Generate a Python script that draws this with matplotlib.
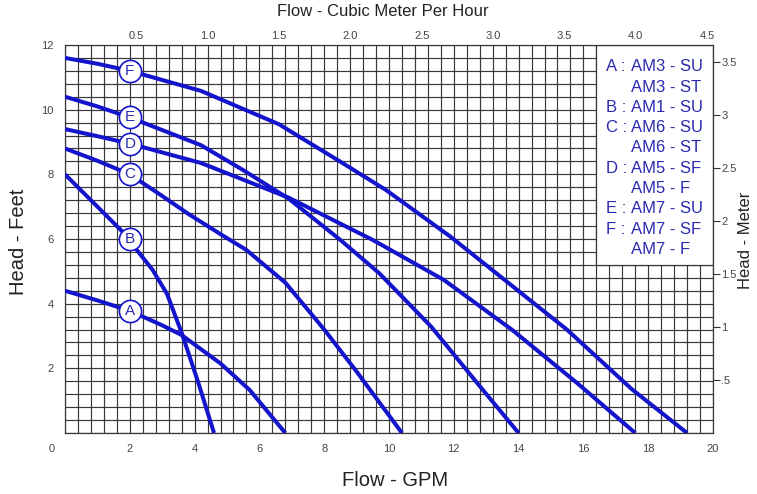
import numpy as np
import matplotlib
matplotlib.use("Agg")
import matplotlib.pyplot as plt
from matplotlib.patches import Rectangle

plt.rcParams['font.family'] = ['Liberation Sans', 'DejaVu Sans']

W, H = 757, 494

# pump curves: flow in GPM, head in feet
A_gpm = [0, 1, 2, 3, 3.6, 4.8, 5.7, 6.8]
A_ft = [4.4, 4.1, 3.78, 3.33, 3.03, 2.15, 1.33, 0]
B_gpm = [0, 1, 2, 2.2, 2.7, 3.15, 3.6, 4.1, 4.6]
B_ft = [8.0, 7.0, 6.0, 5.68, 5.05, 4.3, 3.1, 1.6, 0]
C_gpm = [0, 1, 2, 3, 3.8, 4.8, 5.6, 6.8, 8.0, 9.0, 9.7, 10.4]
C_ft = [8.8, 8.42, 8.0, 7.33, 6.78, 6.15, 5.66, 4.65, 3.2, 1.9, 0.95, 0]
D_gpm = [0, 1, 2, 4.2, 6.9, 9.5, 10.3, 11.7, 13.8, 15.8, 17.6]
D_ft = [9.4, 9.18, 8.95, 8.35, 7.28, 5.97, 5.52, 4.73, 3.19, 1.55, 0]
E_gpm = [0, 1, 2, 4.2, 5.5, 6.9, 8.5, 9.7, 11.3, 12.8, 14.0]
E_ft = [10.4, 10.1, 9.76, 8.9, 8.13, 7.25, 5.97, 4.94, 3.29, 1.45, 0]
F_gpm = [0, 1, 2, 4.2, 6.6, 8.5, 9.9, 11.9, 12.8, 15.5, 17.5, 19.2]
F_ft = [11.6, 11.42, 11.2, 10.58, 9.55, 8.39, 7.52, 6.07, 5.35, 3.19, 1.35, 0]

curves = {'A': (A_gpm, A_ft), 'B': (B_gpm, B_ft), 'C': (C_gpm, C_ft),
          'D': (D_gpm, D_ft), 'E': (E_gpm, E_ft), 'F': (F_gpm, F_ft)}
tag_gpm = 2.0

legend_keys = ['A :', '', 'B :', 'C :', '', 'D :', '', 'E :', 'F :', '']
legend_models = ['AM3 - SU', 'AM3 - ST', 'AM1 - SU', 'AM6 - SU', 'AM6 - ST',
                 'AM5 - SF', 'AM5 - F', 'AM7 - SU', 'AM7 - SF', 'AM7 - F']

top_ticks = [0.5, 1.0, 1.5, 2.0, 2.5, 3.0, 3.5, 4.0, 4.5]
right_ticks = [0.5, 1, 1.5, 2, 2.5, 3, 3.5]
right_labels = ['.5', '1', '1.5', '2', '2.5', '3', '3.5']

GPM_PER_M3H = 4.4029
M_PER_FT = 0.3048

line_c = '#1414cc'
text_c = '#2a2ab0'
grid_c = '#383838'
tick_c = '#444444'


def fx(px):
    return px / W


def fy(py):
    return 1 - py / H


fig = plt.figure(figsize=(W / 100, H / 100), dpi=100)
ax = fig.add_axes([fx(65), fy(433), (713 - 65) / W, (433 - 45) / H])
ax.set_xlim(0, 20)
ax.set_ylim(0, 12)

ax.set_xticks(np.arange(2, 20.01, 2))
ax.set_xticks(np.arange(0, 20.01, 0.4), minor=True)
ax.set_yticks(np.arange(2, 12.01, 2))
ax.set_yticks(np.arange(0, 12.01, 0.4), minor=True)
ax.set_xticklabels([f'{v:g}' for v in np.arange(2, 20.01, 2)])
ax.tick_params(which='both', length=0, labelsize=8, labelcolor=tick_c)
ax.tick_params(axis='x', pad=8)
ax.tick_params(axis='y', pad=8)
ax.set_axisbelow(True)
ax.grid(which='both', color=grid_c, lw=0.85)
for s in ax.spines.values():
    s.set_color(grid_c)
    s.set_linewidth(0.9)
fig.text(fx(52), fy(449), '0', ha='center', va='center', fontsize=8, color=tick_c)

# white box behind the legend text
ax.add_patch(Rectangle((16.4, 5.2), 3.6, 6.8, facecolor='white',
                       edgecolor=grid_c, lw=0.9, zorder=1.5))

for name, (x, y) in curves.items():
    ax.plot(x, y, color=line_c, lw=2.9, zorder=3, solid_capstyle='butt')
    ty = np.interp(tag_gpm, x, y)
    ax.plot(tag_gpm, ty, 'o', ms=16, mfc='white', mec=line_c, mew=1.2, zorder=4)
    ax.text(tag_gpm, ty, name, ha='center', va='center', fontsize=11,
            color=text_c, zorder=5)

# top axis: cubic meter per hour
top = ax.secondary_xaxis('top', functions=(lambda g: g / GPM_PER_M3H,
                                           lambda m: m * GPM_PER_M3H))
top.set_xticks(top_ticks)
top.set_xticklabels([f'{v:.1f}' for v in top_ticks])
top.set_xticks([1, 2, 3, 4], minor=True)
top.tick_params(which='major', length=0, pad=3, labelsize=8, labelcolor=tick_c)
top.tick_params(which='minor', length=3, width=1, color=line_c, direction='out')
top.spines['top'].set_visible(False)

# right axis: meters
right = ax.secondary_yaxis('right', functions=(lambda f: f * M_PER_FT,
                                               lambda m: m / M_PER_FT))
right.set_yticks(right_ticks)
right.set_yticklabels(right_labels)
right.tick_params(length=5, width=0.8, color='#333333', pad=1,
                  labelsize=8, labelcolor=tick_c)
right.spines['right'].set_visible(False)

for i, (k, m) in enumerate(zip(legend_keys, legend_models)):
    yy = fy(66.7 + i * 20.3)
    if k:
        fig.text(fx(606), yy, k, ha='left', va='center', fontsize=12, color=text_c)
    fig.text(fx(631), yy, m, ha='left', va='center', fontsize=12, color=text_c)

fig.text(fx(383), fy(12), 'Flow - Cubic Meter Per Hour', ha='center', va='center',
         fontsize=12, color='#222222')
fig.text(fx(395), fy(480), 'Flow - GPM', ha='center', va='center',
         fontsize=14.5, color='#222222')
fig.text(fx(19), fy(242), 'Head - Feet', ha='center', va='center', rotation=90,
         fontsize=14.5, color='#222222')
fig.text(fx(746), fy(240), 'Head - Meter', ha='center', va='center', rotation=90,
         fontsize=12, color='#222222')

fig.savefig('out.png', dpi=100)
